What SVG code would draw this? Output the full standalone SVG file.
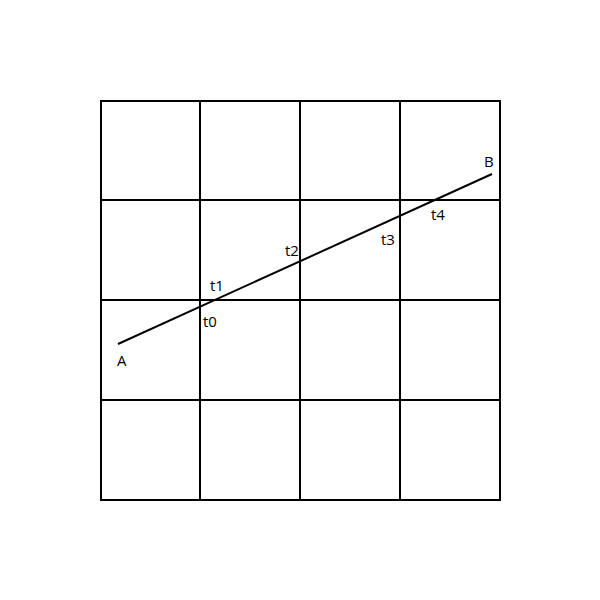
<svg xmlns="http://www.w3.org/2000/svg" width="600" height="600" viewBox="0 0 600 600">
<style>
.g{stroke:#000;stroke-width:2;fill:none}
.l{stroke:#000;stroke-width:2}
text{font-family:"Open Sans","Liberation Sans",sans-serif;font-size:15px;fill:#000}
</style>
<rect width="600" height="600" fill="#fff"/>
<g id="grid">
<rect class="g" x="101" y="101" width="399" height="399"/>
<line class="g" x1="200" y1="101" x2="200" y2="501"/>
<line class="g" x1="300" y1="101" x2="300" y2="500"/>
<line class="g" x1="400" y1="101" x2="400" y2="500"/>
<line class="g" x1="101" y1="200" x2="500" y2="200"/>
<line class="g" x1="101" y1="300" x2="500" y2="300"/>
<line class="g" x1="101" y1="400" x2="500" y2="400"/>
</g>
<g id="connectors">
<line class="l" x1="118" y1="344" x2="492" y2="174"/>
</g>
<g id="labels">
<text x="117" y="366">A</text>
<text x="484" y="167">B</text>
<text x="203" y="327">t0</text>
<text x="210" y="291">t1</text>
<text x="285" y="256">t2</text>
<text x="381" y="245">t3</text>
<text x="431" y="220">t4</text>
</g>
</svg>
